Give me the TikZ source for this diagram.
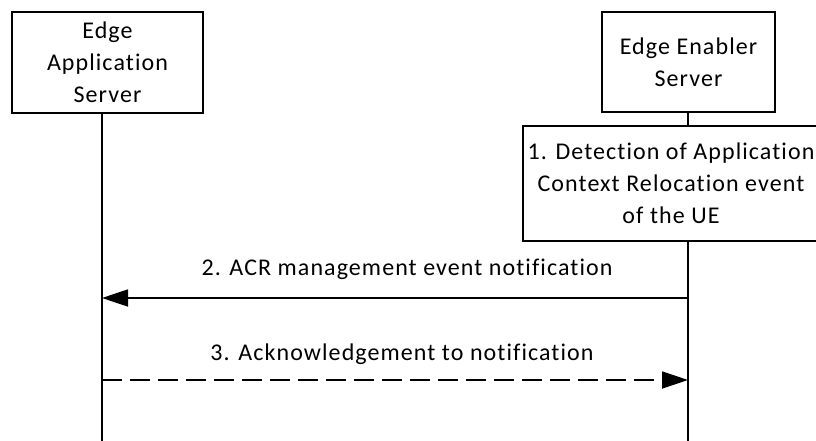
\documentclass[tikz,border=0pt]{standalone}
\usepackage{fontspec}
\setmainfont{Carlito}[LetterSpace=4.5,Ligatures=NoCommon]
\usetikzlibrary{arrows.meta,positioning}

\begin{document}
\begin{tikzpicture}[x=1pt,y=-1pt,>={Triangle[length=26pt,width=17pt]},
  every node/.style={font=\fontsize{24}{32}\selectfont},
  entity/.style={draw,line width=1.6pt,align=center,inner sep=1pt},
  life/.style={line width=1.8pt},
  msg/.style={line width=1.8pt},
  lbl/.style={midway,anchor=base,inner sep=0pt}]
\useasboundingbox (0,0) rectangle (816,441);
% entities
\node[entity,minimum width=191pt,minimum height=101pt] (as) at (107.5,62.5) {Edge\\Application\\Server};
\node[entity,minimum width=173pt,minimum height=100pt] (ees) at (688.5,62) {Edge Enabler\\Server};
\node[entity,minimum width=296pt,minimum height=115pt] (det) at (671,183.5) {1. Detection of Application\\Context Relocation event\\of the UE};
% lifelines
\coordinate (asEnd) at (102,441);
\coordinate (eesEnd) at (688,441);
\draw[life] (as.south -| asEnd) -- (asEnd);
\draw[life] (ees.south -| eesEnd) -- (det.north -| eesEnd);
\draw[life] (det.south -| eesEnd) -- (eesEnd);
% messages
\coordinate (m2) at (0,298);
\coordinate (m3) at (0,380);
\draw[msg,->] (eesEnd |- m2) -- node[lbl,xshift=12pt,yshift=23pt] {2. ACR management event notification} (asEnd |- m2);
\draw[msg,->,dash pattern=on 20pt off 8pt] (asEnd |- m3) -- node[lbl,xshift=7pt,yshift=20pt] {3. Acknowledgement to notification} (eesEnd |- m3);
\end{tikzpicture}
\end{document}
